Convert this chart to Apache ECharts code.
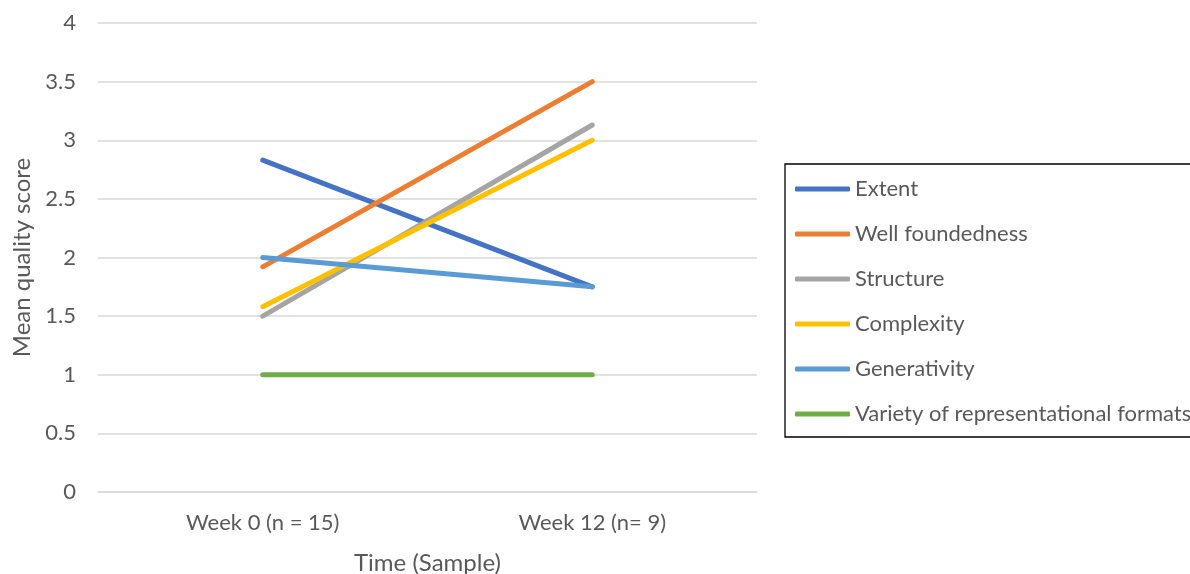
<!DOCTYPE html>
<html>
<head>
<meta charset="utf-8">
<script src="https://cdn.jsdelivr.net/npm/echarts@6/dist/echarts.min.js"></script>
<style>
  html, body { margin: 0; padding: 0; background: #ffffff; }
  #chart { width: 1190px; height: 574px; }
</style>
</head>
<body>
<div id="chart"></div>
<script>
// Time points (x categories)
const categories = ['Week 0 (n = 15)', 'Week 12 (n= 9)'];

// Mean quality score per dimension
const extent = [2.83, 1.75];
const wellFoundedness = [1.92, 3.5];
const structure = [1.5, 3.13];
const complexity = [1.58, 3.0];
const generativity = [2.0, 1.75];
const variety = [1.0, 1.0];

const seriesNames = [
  'Extent',
  'Well foundedness',
  'Structure',
  'Complexity',
  'Generativity',
  'Variety of representational formats'
];
const seriesValues = [extent, wellFoundedness, structure, complexity, generativity, variety];
const seriesColors = ['#4472C4', '#ED7D31', '#A5A5A5', '#FFC000', '#5B9BD5', '#70AD47'];

const fontFamily = 'Lato, Open Sans, sans-serif';
const textColor = '#595959';

const chart = echarts.init(document.getElementById('chart'), null, { renderer: 'canvas' });

chart.setOption({
  animation: false,
  backgroundColor: '#ffffff',
  grid: { left: 98, right: 433, top: 23, bottom: 82, outerBoundsMode: 'none' },
  legend: {
    orient: 'vertical',
    left: 785,
    top: 164,
    padding: [14, 40, 12, 10],
    borderColor: '#000000',
    borderWidth: 1.3,
    icon: 'roundRect',
    itemWidth: 55,
    itemHeight: 5,
    itemGap: 23,
    textStyle: { fontFamily, fontSize: 22, color: textColor, lineHeight: 22 },
    data: seriesNames
  },
  xAxis: {
    type: 'category',
    data: categories,
    boundaryGap: true,
    name: 'Time (Sample)',
    nameLocation: 'middle',
    nameGap: 59,
    nameTextStyle: { fontFamily, fontSize: 24, color: textColor },
    axisLine: { lineStyle: { color: '#d9d9d9', width: 1.5 } },
    axisTick: { show: false },
    axisLabel: { fontFamily, fontSize: 22, color: textColor, margin: 20 }
  },
  yAxis: {
    type: 'value',
    min: 0,
    max: 4,
    interval: 0.5,
    name: 'Mean quality score',
    nameLocation: 'middle',
    nameGap: 64,
    nameTextStyle: { fontFamily, fontSize: 24, color: textColor },
    axisLine: { show: false },
    axisTick: { show: false },
    axisLabel: { fontFamily, fontSize: 22, color: textColor, margin: 22 },
    splitLine: { lineStyle: { color: '#d9d9d9', width: 1.5 } }
  },
  series: seriesNames.map((name, i) => ({
    name,
    type: 'line',
    data: seriesValues[i],
    showSymbol: false,
    symbol: 'none',
    color: seriesColors[i],
    lineStyle: { width: 5, color: seriesColors[i], cap: 'round' }
  }))
});
</script>
</body>
</html>
